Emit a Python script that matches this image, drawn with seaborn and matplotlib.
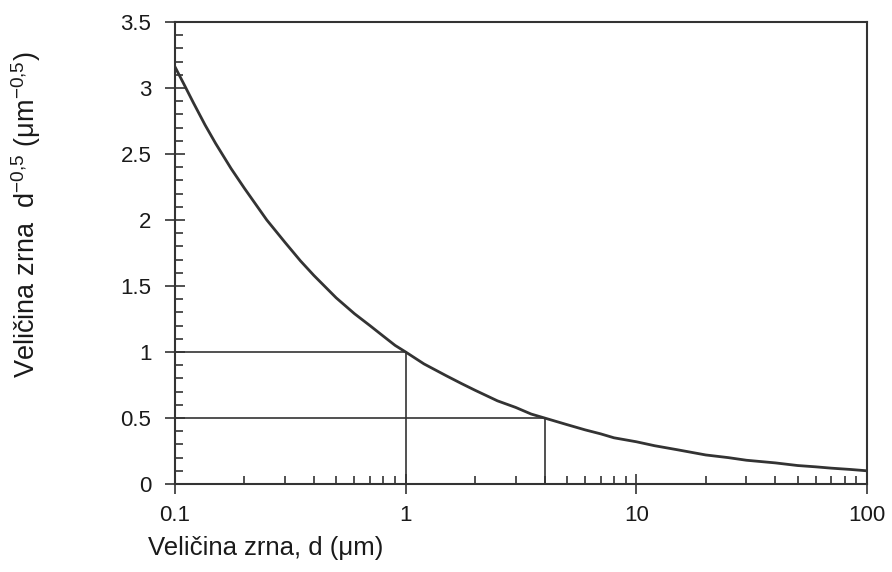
import matplotlib
matplotlib.use("Agg")
import matplotlib.pyplot as plt
import matplotlib.ticker as mticker
import numpy as np
import pandas as pd
import seaborn as sns

# grain size d (um) and d^-0.5
d_um = [0.1, 0.11, 0.12, 0.135, 0.15, 0.175, 0.2, 0.25, 0.3, 0.35, 0.4, 0.5, 0.6,
        0.7, 0.8, 0.9, 1.0, 1.2, 1.5, 1.75, 2.0, 2.5, 3.0, 3.5, 4.0, 5.0, 6.0, 7.0,
        8.0, 10, 12, 15, 20, 25, 30, 40, 50, 60, 70, 85, 100]
d_inv_sqrt = [3.16, 3.02, 2.89, 2.72, 2.58, 2.39, 2.24, 2.0, 1.83, 1.69, 1.58,
              1.41, 1.29, 1.20, 1.12, 1.05, 1.0, 0.91, 0.82, 0.76, 0.71, 0.63,
              0.58, 0.53, 0.5, 0.45, 0.41, 0.38, 0.35, 0.32, 0.29, 0.26, 0.22,
              0.2, 0.18, 0.16, 0.14, 0.13, 0.12, 0.11, 0.1]

# guide lines: d = 1 -> 1, d = 4 -> 0.5
guide_d = [1, 4]
guide_y = [1, 0.5]

x_ticks = [0.1, 1, 10, 100]
x_ticklabels = ["0.1", "1", "10", "100"]
y_ticks = [0, 0.5, 1, 1.5, 2, 2.5, 3, 3.5]
y_ticklabels = ["0", "0.5", "1", "1.5", "2", "2.5", "3", "3.5"]

sns.set_style("ticks")
plt.rcParams["font.family"] = ["Liberation Sans", "DejaVu Sans"]
plt.rcParams["mathtext.fontset"] = "custom"
plt.rcParams["mathtext.rm"] = "Liberation Sans"
plt.rcParams["mathtext.it"] = "Liberation Sans"

fig = plt.figure(figsize=(8.92, 5.72), dpi=100)
ax = fig.add_axes([175 / 892, 1 - 484 / 572, (867 - 175) / 892, (484 - 22) / 572])

line_col = "#333333"
text_col = "#1a1a1a"
df = pd.DataFrame({"d": d_um, "y": d_inv_sqrt})
sns.lineplot(data=df, x="d", y="y", ax=ax, color=line_col, linewidth=2)

for gd, gy in zip(guide_d, guide_y):
    ax.plot([x_ticks[0], gd], [gy, gy], color=line_col, linewidth=1.2)
    ax.plot([gd, gd], [0, gy], color=line_col, linewidth=1.2)

ax.set_xscale("log")
ax.set_xlim(0.1, 100)
ax.set_ylim(0, 3.5)
ax.set_xticks(x_ticks)
ax.set_xticklabels(x_ticklabels)
ax.set_yticks(y_ticks)
ax.set_yticklabels(y_ticklabels)
ax.yaxis.set_minor_locator(mticker.MultipleLocator(0.1))
ax.xaxis.set_minor_locator(mticker.LogLocator(base=10, subs=np.arange(2, 10)))
ax.xaxis.set_minor_formatter(mticker.NullFormatter())

ax.tick_params(which="major", direction="inout", length=14, width=1.2,
               color=line_col, labelsize=16, labelcolor=text_col)
ax.tick_params(which="minor", direction="in", length=6, width=1.2, color=line_col)
ax.tick_params(axis="y", which="major", pad=10)
ax.tick_params(axis="x", which="major", pad=8)

for s in ax.spines.values():
    s.set_color(line_col)
    s.set_linewidth(1.5)

ax.set_xlabel("")
ax.set_ylabel("")
fig.text(148 / 892, 1 - 548 / 572, "Veličina zrna, d (μm)", fontsize=18.5,
         ha="left", va="center", color=text_col)
fig.text(26 / 892, 1 - 215 / 572,
         r"Veličina zrna  d$^{-0{,}5}$ (μm$^{-0{,}5}$)", fontsize=19.5,
         rotation=90, ha="center", va="center", color=text_col)

fig.savefig("out.png", dpi=100)
